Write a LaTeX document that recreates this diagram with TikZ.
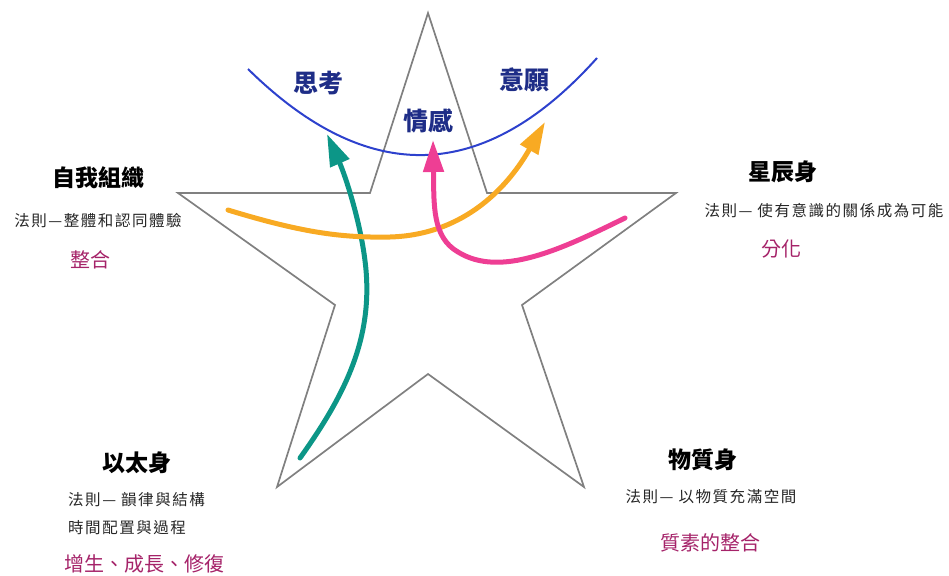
\documentclass[tikz,border=0pt]{standalone}
\usepackage{fontspec}
\usetikzlibrary{arrows.meta}
\newfontfamily\cjk{Noto Sans CJK TC}
\newfontfamily\cjkrule[LetterSpace=10]{Noto Sans CJK TC}
\definecolor{stargray}{RGB}{128,128,128}
\definecolor{arcblue}{RGB}{45,65,205}
\definecolor{navyc}{RGB}{30,45,135}
\definecolor{tealc}{RGB}{12,150,135}
\definecolor{orangec}{RGB}{248,170,35}
\definecolor{pinkc}{RGB}{238,62,148}
\definecolor{magc}{RGB}{165,35,105}
\tikzset{
  title/.style={font=\cjk\bfseries\fontsize{23}{26}\selectfont, text=black, inner sep=0pt},
  rule/.style={font=\cjkrule\fontsize{15.5}{18}\selectfont, text=black!85, inner sep=0pt},
  keyw/.style={font=\cjk\fontsize{20}{24}\selectfont, text=magc, inner sep=0pt},
  soul/.style={font=\cjk\bfseries\fontsize{25}{28}\selectfont, text=navyc, inner sep=0pt},
  crayon/.style={line width=5pt, line cap=round, -{Triangle[length=32pt,width=20pt]}},
}
\begin{document}
\begin{tikzpicture}[x=1pt,y=-1pt]
\useasboundingbox (0,0) rectangle (949,575);
% star
\draw[stargray, line width=1.7pt, line join=miter]
  (428,13) -- (487,193) -- (676,193) -- (522,305) -- (584,487) -- (428,374)
  -- (277,487) -- (335,305) -- (178,193) -- (370,193) -- cycle;
% blue arc
\coordinate (arcL) at (248,69);
\coordinate (arcR) at (597,58);
\draw[arcblue, line width=2pt] (arcL) .. controls (368,187) and (484,184) .. (arcR);
% labels in arc
\node[soul] (think) at (318,83) {思考};
\node[soul] (will) at (524,80) {意願};
\node[soul] (feel) at (428,121) {情感};
% arrows
\coordinate (tS) at (300,458);
\coordinate (tE) at (327,134);
\coordinate (oS) at (228,210);
\coordinate (oE) at (545,122);
\coordinate (pS) at (625,218);
\coordinate (pE) at (433,140);
\draw[crayon, tealc] (tS) .. controls (345,395) and (372,340) .. (366,270)
  .. controls (362,225) and (345,175) .. (tE);
\draw[crayon, orangec] (oS) .. controls (300,232) and (340,238) .. (390,237)
  .. controls (460,235) and (505,192) .. (oE);
\draw[crayon, pinkc] (pS) .. controls (560,250) and (500,278) .. (458,252)
  .. controls (432,237) and (434,205) .. (pE);
% self organisation
\node[title] (ego) at (98,178) {自我組織};
\node[rule] (egor) at (98,221) {法則—整體和認同體驗};
\node[keyw] (egok) at (90,260) {整合};
% astral
\node[title] (astral) at (783,172) {星辰身};
\node[rule] (astralr) at (824,211) {法則— 使有意識的關係成為可能};
\node[keyw] (astralk) at (781,249) {分化};
% etheric
\node[title] (ether) at (137,463) {以太身};
\node[rule, anchor=west] (etherr1) at (68,500) {法則— 韻律與結構};
\node[rule, anchor=west] (etherr2) at (68,528) {時間配置與過程};
\node[keyw] (etherk) at (144,564) {增生、成長、修復};
% physical
\node[title] (phys) at (703,460) {物質身};
\node[rule] (physr) at (711,497) {法則— 以物質充滿空間};
\node[keyw] (physk) at (710,543) {質素的整合};
\end{tikzpicture}
\end{document}
